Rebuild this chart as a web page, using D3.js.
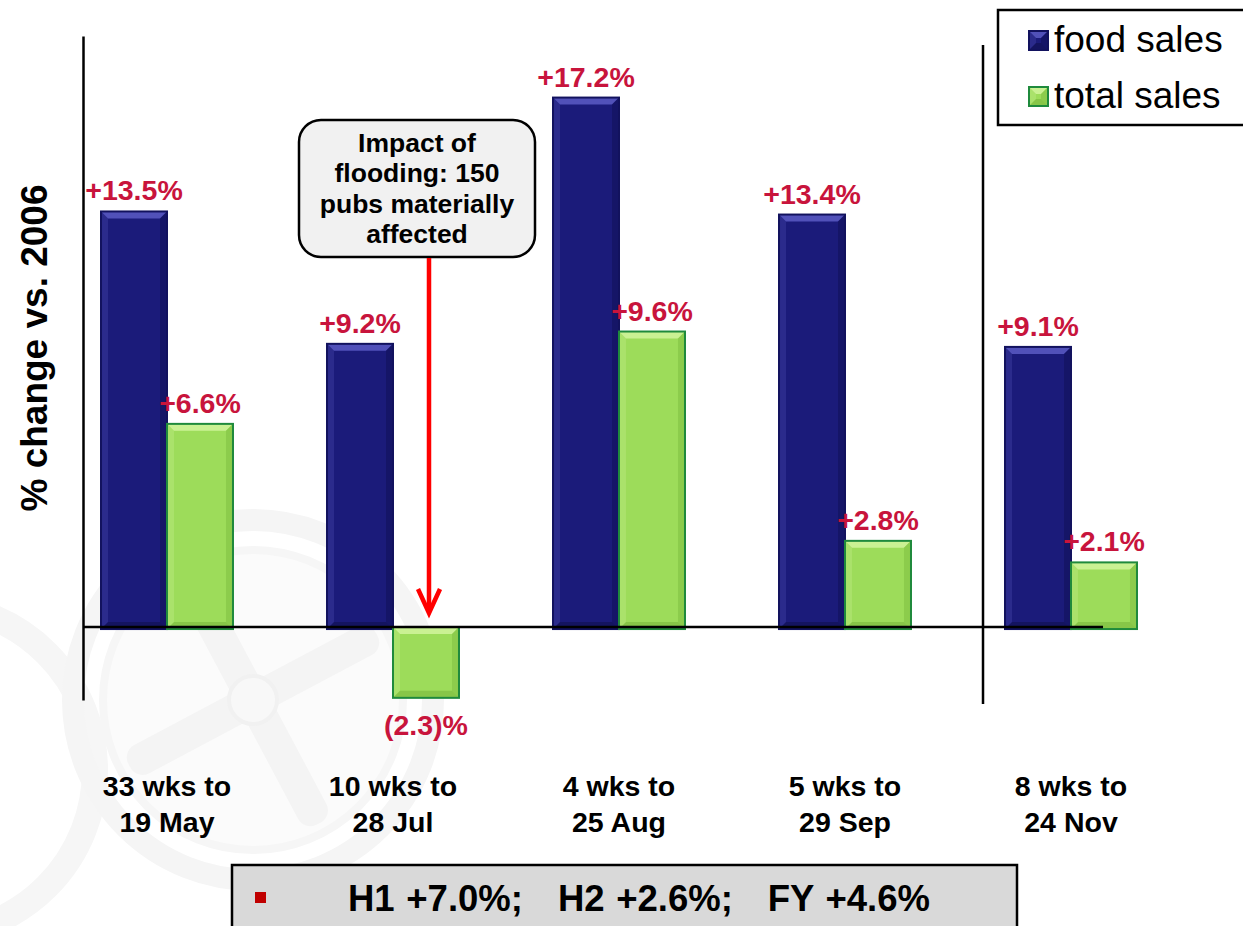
<!DOCTYPE html>
<html>
<head>
<meta charset="utf-8">
<script src="https://cdn.jsdelivr.net/npm/d3@7/dist/d3.min.js"></script>
<style>
  html, body { margin: 0; padding: 0; background: #ffffff; }
  svg { display: block; }
  text { font-family: Arial, "Liberation Sans", sans-serif; }
</style>
</head>
<body>
<svg id="chart" width="1243" height="926"></svg>
<script>
// Periods (two-line category labels)
const periods = ["33 wks to|19 May", "10 wks to|28 Jul", "4 wks to|25 Aug", "5 wks to|29 Sep", "8 wks to|24 Nov"];
const seriesNames = ["food sales", "total sales"];
// % change vs. 2006
const foodSales  = [13.5, 9.2, 17.2, 13.4, 9.1];
const totalSales = [6.6, -2.3, 9.6, 2.8, 2.1];
const calloutLines = ["Impact of", "flooding: 150", "pubs materially", "affected"];
const summaryText = "H1 +7.0%;   H2 +2.6%;   FY +4.6%";
const yTitle = "% change vs. 2006";

const data = periods.map((p, i) => ({ period: p, values: [foodSales[i], totalSales[i]] }));

const palette = {
  "food sales":  { fill: "#1b1b7a", light: "#5a5ac4", dark: "#10104f", stroke: "#12125e" },
  "total sales": { fill: "#9ddc5a", light: "#d2f59e", dark: "#78b83c", stroke: "#1f8a3c" }
};
const labelColor = "#c8143c";

const svg = d3.select("#chart");

// faint emblem in the background
const wm = svg.append("g").attr("fill", "none");
wm.append("circle").attr("cx", -70).attr("cy", 770).attr("r", 165).attr("stroke", "#f6f6f6").attr("stroke-width", 26);
const em = wm.append("g").attr("transform", "translate(253,700)");
em.append("circle").attr("r", 180).attr("stroke", "#f5f5f5").attr("stroke-width", 22);
em.append("circle").attr("r", 150).attr("fill", "#fbfbfb").attr("stroke", "#f6f6f6").attr("stroke-width", 8);
const spokes = em.append("g").attr("transform", "rotate(-28)");
spokes.append("rect").attr("x", -140).attr("y", -16).attr("width", 280).attr("height", 32).attr("rx", 14).attr("fill", "#f4f4f4");
spokes.append("rect").attr("x", -16).attr("y", -140).attr("width", 32).attr("height", 280).attr("rx", 14).attr("fill", "#f4f4f4");
em.append("circle").attr("r", 24).attr("fill", "#f8f8f8").attr("stroke", "#f1f1f1").attr("stroke-width", 4);

// scales
const x0 = d3.scaleBand().domain(periods).range([54, 1184]).paddingInner(0.416).paddingOuter(0.208);
const x1 = d3.scaleBand().domain(seriesNames).range([0, x0.bandwidth()]);
const y = d3.scaleLinear().domain([-2.37, 19.2]).range([700, 36]);

// left axis line
svg.append("g")
  .attr("transform", "translate(83,0)")
  .call(d3.axisLeft(y).tickValues([]).tickSizeOuter(0))
  .call(g => g.select(".domain").attr("stroke", "#000").attr("stroke-width", 2.5));

// divider before the last period
const divX = x0(periods[4]) - 22;
svg.append("line").attr("x1", divX).attr("x2", divX).attr("y1", 45).attr("y2", 704)
  .attr("stroke", "#000").attr("stroke-width", 2.5);

// bevelled bar drawing
function bevelBar(g, x, top, w, h, c) {
  const b = Math.min(7, h / 2);
  g.append("rect").attr("x", x).attr("y", top).attr("width", w).attr("height", h).attr("fill", c.fill);
  g.append("polygon").attr("points", [[x, top], [x + w, top], [x + w - b, top + b], [x + b, top + b]].join(" "))
    .attr("fill", c.light).attr("opacity", 0.85);
  g.append("polygon").attr("points", [[x, top + h], [x + w, top + h], [x + w - b, top + h - b], [x + b, top + h - b]].join(" "))
    .attr("fill", c.dark).attr("opacity", 0.6);
  g.append("polygon").attr("points", [[x, top], [x + b, top + b], [x + b, top + h - b], [x, top + h]].join(" "))
    .attr("fill", c.light).attr("opacity", 0.25);
  g.append("polygon").attr("points", [[x + w, top], [x + w - b, top + b], [x + w - b, top + h - b], [x + w, top + h]].join(" "))
    .attr("fill", c.dark).attr("opacity", 0.45);
  g.append("rect").attr("x", x).attr("y", top).attr("width", w).attr("height", h)
    .attr("fill", "none").attr("stroke", c.stroke).attr("stroke-width", 2);
}

const groups = svg.append("g").selectAll("g").data(data).join("g")
  .attr("transform", d => `translate(${x0(d.period)},0)`);

groups.each(function (d) {
  const g = d3.select(this);
  d.values.forEach((v, i) => {
    const name = seriesNames[i];
    const bx = x1(name), bw = x1.bandwidth();
    const top = y(Math.max(v, 0)), bottom = y(Math.min(v, 0)) + (v >= 0 ? 2 : 0);
    bevelBar(g.append("g"), bx, top, bw, bottom - top, palette[name]);
    g.append("text")
      .attr("x", bx + bw / 2)
      .attr("y", v >= 0 ? top - 11 : bottom + 37)
      .attr("text-anchor", "middle")
      .attr("fill", labelColor)
      .attr("font-weight", "bold")
      .attr("font-size", 28.5)
      .text(v >= 0 ? "+" + v.toFixed(1) + "%" : "(" + Math.abs(v).toFixed(1) + ")%");
  });
});

// zero line
svg.append("line").attr("x1", 83).attr("x2", x0(periods[4]) + 98)
  .attr("y1", y(0)).attr("y2", y(0)).attr("stroke", "#000").attr("stroke-width", 2.5);

// category labels
const catLabels = svg.append("g").selectAll("text").data(periods).join("text")
  .attr("text-anchor", "middle")
  .attr("font-weight", "bold")
  .attr("font-size", 28.5)
  .attr("fill", "#000");
catLabels.each(function (p) {
  const t = d3.select(this);
  const cx = x0(p) + x0.bandwidth() / 2;
  p.split("|").forEach((line, k) => {
    t.append("tspan").attr("x", cx).attr("y", 796 + k * 36).text(line);
  });
});

// y-axis title
svg.append("text")
  .attr("transform", "translate(47,348) rotate(-90)")
  .attr("text-anchor", "middle")
  .attr("font-weight", "bold")
  .attr("font-size", 37)
  .text(yTitle);

// flooding callout and arrow
const arrowX = x0(periods[1]) + x1("total sales") + x1.bandwidth() / 2 + 3;
const callout = svg.append("g");
callout.append("rect").attr("x", 299).attr("y", 120).attr("width", 236).attr("height", 137).attr("rx", 22)
  .attr("fill", "#f1f1f1").attr("stroke", "#000").attr("stroke-width", 2.5);
callout.append("text")
  .attr("text-anchor", "middle").attr("font-weight", "bold").attr("font-size", 26.5).attr("fill", "#000")
  .selectAll("tspan").data(calloutLines).join("tspan")
  .attr("x", 417).attr("y", (d, i) => 152 + i * 30.3).text(d => d);
const tipY = y(0) - 14;
const arrow = svg.append("g").attr("stroke", "#ff0000").attr("stroke-width", 4.5).attr("fill", "none");
arrow.append("line").attr("x1", arrowX).attr("x2", arrowX).attr("y1", 258).attr("y2", tipY - 2);
arrow.append("path").attr("d", `M${arrowX - 11},${tipY - 24} L${arrowX},${tipY} L${arrowX + 11},${tipY - 24}`)
  .attr("stroke-linecap", "butt").attr("stroke-linejoin", "miter");

// legend
const legend = svg.append("g");
legend.append("rect").attr("x", 998).attr("y", 10).attr("width", 270).attr("height", 115)
  .attr("fill", "#fff").attr("stroke", "#000").attr("stroke-width", 2.5);
seriesNames.forEach((name, i) => {
  const ly = 40 + i * 56;
  bevelBar(legend.append("g"), 1029, ly - 9, 19, 19, palette[name]);
  legend.append("text").attr("x", 1054).attr("y", ly + 12)
    .attr("font-size", 37).attr("fill", "#000").text(name);
});

// full-year summary box
const summary = svg.append("g");
summary.append("rect").attr("x", 232).attr("y", 865).attr("width", 785).attr("height", 80)
  .attr("fill", "#d9d9d9").attr("stroke", "#000").attr("stroke-width", 2.5);
summary.append("rect").attr("x", 255).attr("y", 892).attr("width", 11).attr("height", 11).attr("fill", "#c00000");
summary.append("text").attr("x", 348).attr("y", 911)
  .attr("font-weight", "bold").attr("font-size", 36.5).attr("word-spacing", 1.5).attr("fill", "#000")
  .attr("xml:space", "preserve").style("white-space", "pre")
  .text(summaryText);
</script>
</body>
</html>
